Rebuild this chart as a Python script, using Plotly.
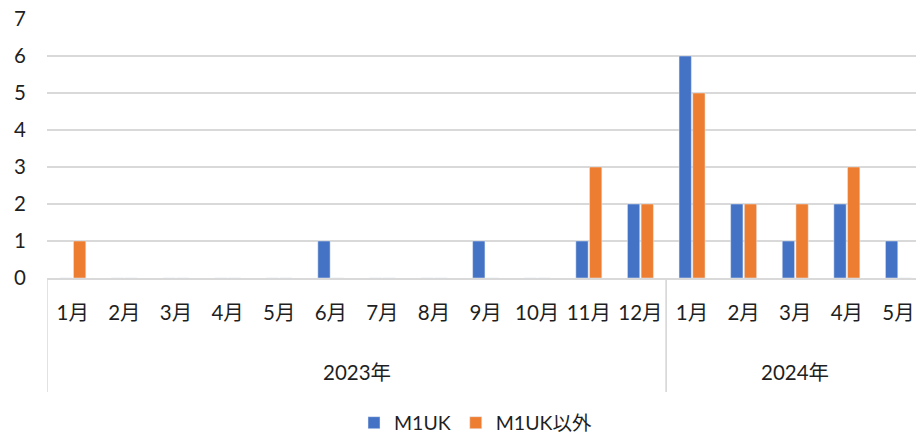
import plotly.graph_objects as go

# Monthly counts, Jan 2023 – May 2024
years = ["2023年"] * 12 + ["2024年"] * 5
months = ["1月", "2月", "3月", "4月", "5月", "6月", "7月", "8月", "9月", "10月",
          "11月", "12月", "1月", "2月", "3月", "4月", "5月"]
m1uk = [0, 0, 0, 0, 0, 1, 0, 0, 1, 0, 1, 2, 6, 2, 1, 2, 1]
others = [1, 0, 0, 0, 0, 0, 0, 0, 0, 0, 3, 2, 5, 2, 2, 3, 0]
y_ticks = [0, 1, 2, 3, 4, 5, 6, 7]

BLUE = "#4472C4"
ORANGE = "#ED7D31"
GRID = "#D9D9D9"
TEXT = "#1F1F1F"
FONT = "Lato, 'Noto Sans CJK JP', sans-serif"
FS = 20.5

W, H = 916, 436
M_L, M_R, M_T, M_B = 47, 0, 19, 158
plot_h = H - M_T - M_B

idx = list(range(len(months)))

fig = go.Figure()
fig.add_trace(go.Bar(x=idx, y=m1uk, name="M1UK", marker_color=BLUE))
fig.add_trace(go.Bar(x=idx, y=others, name="M1UK以外", marker_color=ORANGE))


def py(pixel_y):
    """Convert a page pixel row to paper y."""
    return (H - M_B - pixel_y) / plot_h


# Year grouping: dividers at group boundaries and labels centred on each group
groups = []
for i, yr in enumerate(years):
    if not groups or groups[-1][0] != yr:
        groups.append([yr, i, i])
    else:
        groups[-1][2] = i

shapes = []
annotations = []
for yr, start, end in groups:
    for xb in (start - 0.5, end + 0.5):
        shapes.append(dict(type="line", xref="x", yref="paper", x0=xb, x1=xb,
                           y0=0, y1=py(392), line=dict(color=GRID, width=1.5)))
    annotations.append(dict(text=yr, x=(start + end) / 2, xref="x", y=py(372),
                            yref="paper", showarrow=False, yanchor="middle",
                            font=dict(size=FS, color=TEXT, family=FONT)))

fig.update_layout(
    width=W, height=H,
    margin=dict(l=M_L, r=M_R, t=M_T, b=M_B, autoexpand=False),
    paper_bgcolor="white", plot_bgcolor="white",
    barmode="group", bargap=0.47, bargroupgap=0.1,
    font=dict(family=FONT, size=FS, color=TEXT),
    shapes=shapes, annotations=annotations,
    showlegend=True,
    legend=dict(orientation="h", x=0.5 - 6 / (W - M_L - M_R), xanchor="center",
                y=py(423), yanchor="middle",
                font=dict(size=19.5, color=TEXT, family=FONT),
                itemwidth=30, traceorder="normal", tracegroupgap=0),
    xaxis=dict(range=[-0.5, 16.34], tickmode="array", tickvals=idx,
               ticktext=months, showgrid=False, zeroline=False,
               showline=True, linecolor=GRID, linewidth=1.5,
               ticks="", ticklabelstandoff=16, automargin=False,
               tickfont=dict(size=FS, color=TEXT, family=FONT)),
    yaxis=dict(range=[0, 7], tickmode="array", tickvals=y_ticks,
               showgrid=True, gridcolor=GRID, gridwidth=1.5,
               zeroline=False, showline=False, ticks="",
               ticklabelstandoff=20, automargin=False,
               tickfont=dict(size=FS, color=TEXT, family=FONT)),
)

fig.write_html("out.html")
